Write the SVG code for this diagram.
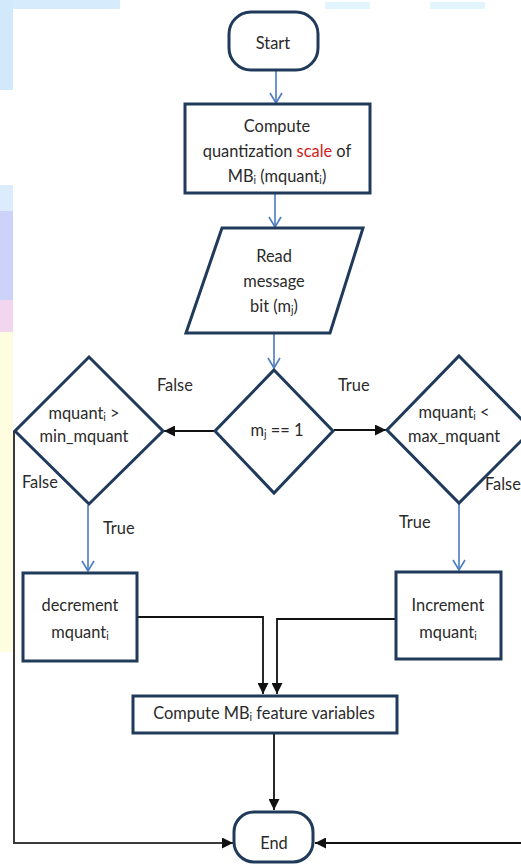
<svg xmlns="http://www.w3.org/2000/svg" width="521" height="867" viewBox="0 0 521 867">
  <style>
    .node { fill: #ffffff; stroke: #1f3a5a; stroke-width: 3; stroke-linejoin: miter; }
    .txt { font-family: Lato, "Liberation Sans", sans-serif; font-size: 16.4px; fill: #2a2a2a; text-anchor: middle; }
    .lbl { font-family: Lato, "Liberation Sans", sans-serif; font-size: 16.4px; fill: #2a2a2a; }
    .sub { font-size: 10.5px; }
    .red { fill: #d42020; }
    .flow { fill: none; stroke: #4a7cbf; stroke-width: 1.6; }
    .link { fill: none; stroke: #111111; stroke-width: 1.8; }
    .loop { fill: none; stroke: #3a3a3a; stroke-width: 2; }
  </style>
  <defs>
    <marker id="open" viewBox="0 0 12 14" refX="11" refY="7" markerWidth="12" markerHeight="14" markerUnits="userSpaceOnUse" orient="auto">
      <path d="M1,1 L11,7 L1,13" fill="none" stroke="#4a7cbf" stroke-width="1.6"/>
    </marker>
    <marker id="solid" viewBox="0 0 10 10" refX="10" refY="5" markerWidth="11" markerHeight="11" markerUnits="userSpaceOnUse" orient="auto">
      <path d="M0,0 L10,5 L0,10 Z" fill="#111111"/>
    </marker>
  </defs>

  <!-- page background with soft coloured margin -->
  <rect x="0" y="0" width="521" height="867" fill="#ffffff"/>
  <g id="backdrop">
    <rect x="0" y="0" width="120" height="9" fill="#d6ebfb"/>
    <rect x="325" y="2" width="45" height="7" fill="#e2f4fd"/>
    <rect x="430" y="2" width="55" height="7" fill="#e2f4fd"/>
    <rect x="0" y="0" width="13" height="90" fill="#d2e8fb"/>
    <rect x="0" y="185" width="13" height="26" fill="#dcecfd"/>
    <rect x="0" y="211" width="13" height="90" fill="#cdd2f8"/>
    <rect x="0" y="300" width="13" height="32" fill="#f2d6ee"/>
    <rect x="0" y="332" width="13" height="320" fill="#fffde0"/>
  </g>

  <g id="connectors">
    <line class="flow" x1="276" y1="71" x2="276" y2="103" marker-end="url(#open)"/>
    <line class="flow" x1="275" y1="194" x2="275" y2="227" marker-end="url(#open)"/>
    <line class="flow" x1="274" y1="334" x2="274" y2="368" marker-end="url(#open)"/>
    <line class="flow" x1="88" y1="505" x2="88" y2="571" marker-end="url(#open)"/>
    <line class="flow" x1="459" y1="504" x2="459" y2="570" marker-end="url(#open)"/>
    <line class="link" x1="214" y1="431" x2="164" y2="431" marker-end="url(#solid)"/>
    <line class="link" x1="334" y1="430" x2="386" y2="430" marker-end="url(#solid)"/>
    <polyline class="link" points="138,617 263,617 263,694" marker-end="url(#solid)"/>
    <polyline class="link" points="395,619 277,619 277,694" marker-end="url(#solid)"/>
    <line class="link" x1="274" y1="734" x2="274" y2="810" marker-end="url(#solid)"/>
    <polyline class="loop" points="14,431 14,843 233,843" marker-end="url(#solid)"/>
    <line class="link" x1="521" y1="843" x2="315" y2="843" marker-end="url(#solid)"/>
  </g>

  <g id="start">
    <rect class="node" x="229" y="12" width="89" height="58" rx="22" ry="22"/>
    <text class="txt" x="273" y="49">Start</text>
  </g>

  <g id="quant-scale">
    <rect class="node" x="185" y="104" width="185" height="89"/>
    <text class="txt" x="277" y="132">Compute</text>
    <text class="txt" x="277" y="157">quantization <tspan class="red">scale</tspan> of</text>
    <text class="txt" x="277" y="182">MB<tspan class="sub" dy="2">i</tspan><tspan dy="-2"> (mquant</tspan><tspan class="sub" dy="2">i</tspan><tspan dy="-2">)</tspan></text>
  </g>

  <g id="read-bit">
    <polygon class="node" points="222,228 363,228 330,333 186,333"/>
    <text class="txt" x="274" y="262">Read</text>
    <text class="txt" x="274" y="287">message</text>
    <text class="txt" x="274" y="312">bit (m<tspan class="sub" dy="2">j</tspan><tspan dy="-2">)</tspan></text>
  </g>

  <g id="bit-test">
    <polygon class="node" points="274,370 333,431 274,493 215,431"/>
    <text class="txt" x="277" y="436">m<tspan class="sub" dy="2">j</tspan><tspan dy="-2"> == 1</tspan></text>
  </g>

  <g id="min-test">
    <polygon class="node" points="89,357 163,431 89,504 15,431"/>
    <text class="txt" x="84" y="419">mquant<tspan class="sub" dy="2">i</tspan><tspan dy="-2"> &gt;</tspan></text>
    <text class="txt" x="84" y="442">min_mquant</text>
  </g>

  <g id="max-test">
    <polygon class="node" points="459,356 532,430 459,503 387,430"/>
    <text class="txt" x="454" y="418">mquant<tspan class="sub" dy="2">i</tspan><tspan dy="-2"> &lt;</tspan></text>
    <text class="txt" x="454" y="442">max_mquant</text>
  </g>

  <g id="decrement">
    <rect class="node" x="23" y="573" width="114" height="88"/>
    <text class="txt" x="80" y="611">decrement</text>
    <text class="txt" x="80" y="638">mquant<tspan class="sub" dy="2">i</tspan></text>
  </g>

  <g id="increment">
    <rect class="node" x="396" y="572" width="105" height="87"/>
    <text class="txt" x="448" y="611">Increment</text>
    <text class="txt" x="448" y="638">mquant<tspan class="sub" dy="2">i</tspan></text>
  </g>

  <g id="features">
    <rect class="node" x="133" y="696" width="264" height="37"/>
    <text class="txt" x="264" y="719">Compute MB<tspan class="sub" dy="2">i</tspan><tspan dy="-2"> feature variables</tspan></text>
  </g>

  <g id="end">
    <rect class="node" x="234" y="812" width="79" height="50" rx="20" ry="20"/>
    <text class="txt" x="274" y="849">End</text>
  </g>

  <g id="labels">
    <text class="lbl" x="157" y="391">False</text>
    <text class="lbl" x="338" y="391">True</text>
    <text class="lbl" x="22" y="488">False</text>
    <text class="lbl" x="103" y="534">True</text>
    <text class="lbl" x="399" y="528">True</text>
    <text class="lbl" x="485" y="490">False</text>
  </g>
</svg>
